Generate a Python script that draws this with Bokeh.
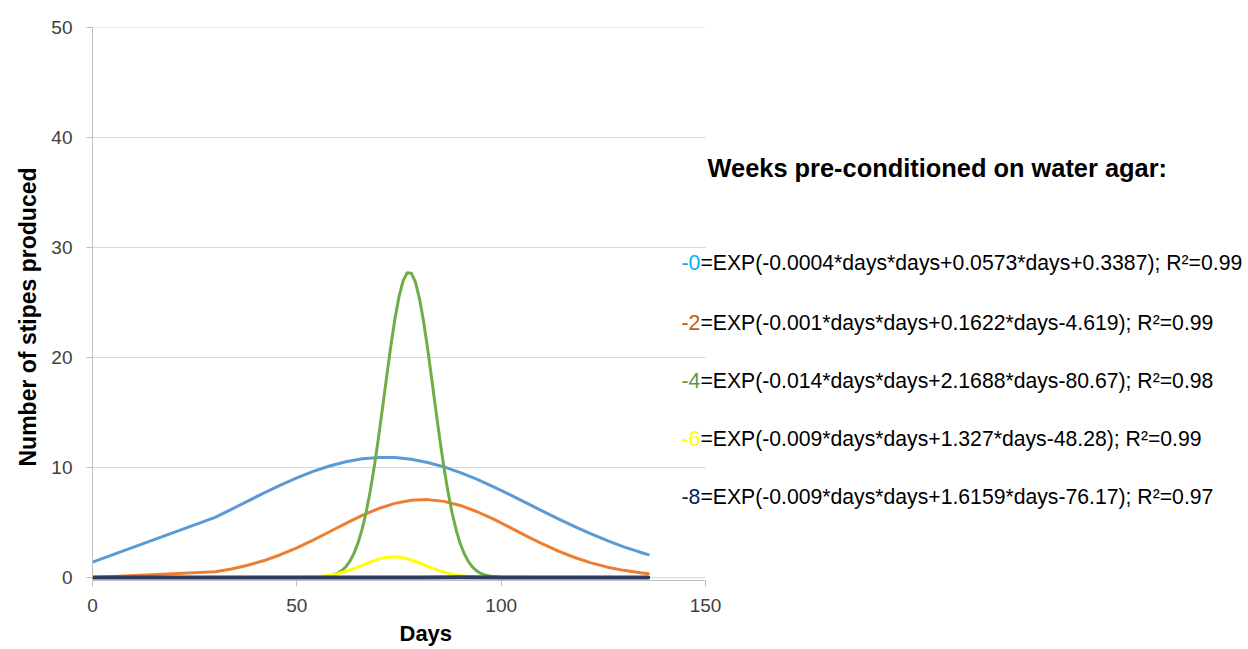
from bokeh.plotting import figure
from bokeh.models import Label, FixedTicker, Range1d, Title
from bokeh.embed import file_html
from bokeh.resources import INLINE

# ---- data ----
days_0 = [0, 30, 34, 38, 42, 46, 50, 54, 58, 62, 66, 70, 74, 78, 82, 86, 90, 94, 98,
          102, 106, 110, 114, 118, 122, 126, 130, 134, 136]
weeks_0 = [1.40, 5.46, 6.20, 6.95, 7.69, 8.40, 9.06, 9.65, 10.14, 10.52, 10.79, 10.91, 10.90,
           10.75, 10.46, 10.06, 9.54, 8.94, 8.27, 7.55, 6.81, 6.06, 5.33, 4.62, 3.96, 3.35,
           2.79, 2.30, 2.08]

days_2 = days_0
weeks_2 = [0.01, 0.52, 0.77, 1.11, 1.54, 2.07, 2.69, 3.40, 4.16, 4.92, 5.64, 6.27, 6.74,
           7.02, 7.08, 6.92, 6.55, 6.00, 5.33, 4.58, 3.81, 3.07, 2.40, 1.82, 1.33, 0.94,
           0.65, 0.43, 0.35]

days_4 = [0, 30, 50, 56, 58, 60, 61, 62, 63, 64, 65, 66, 67, 68, 69, 70, 71, 72, 73, 74,
          75, 76, 77, 78, 79, 80, 81, 82, 83, 84, 85, 86, 87, 88, 89, 90, 91, 92, 93, 94,
          95, 96, 98, 100, 110, 120, 136]
weeks_4 = [0.0, 0.0, 0.0, 0.04, 0.14, 0.39, 0.63, 0.98, 1.49, 2.20, 3.17, 4.42, 6.01, 7.94,
           10.21, 12.76, 15.50, 18.31, 21.04, 23.51, 25.53, 26.97, 27.70, 27.67, 26.88,
           25.38, 23.31, 20.81, 18.07, 15.26, 12.53, 10.00, 7.76, 5.86, 4.30, 3.07, 2.13,
           1.44, 0.94, 0.60, 0.37, 0.23, 0.08, 0.02, 0.0, 0.0, 0.0]

days_6 = [0, 30, 50, 54, 56, 58, 60, 62, 64, 66, 68, 70, 72, 74, 76, 78, 80, 82, 84, 86,
          88, 90, 92, 94, 100, 110, 120, 136]
weeks_6 = [0.0, 0.0, 0.01, 0.06, 0.11, 0.20, 0.35, 0.55, 0.81, 1.10, 1.41, 1.67, 1.84,
           1.89, 1.80, 1.60, 1.32, 1.02, 0.73, 0.49, 0.30, 0.17, 0.09, 0.05, 0.0, 0.0,
           0.0, 0.0]

days_8 = [0, 30, 60, 70, 80, 90, 100, 110, 120, 136]
weeks_8 = [0.0, 0.0, 0.0, 0.0, 0.01, 0.03, 0.01, 0.0, 0.0, 0.0]

series_names = ["-0", "-2", "-4", "-6", "-8"]
equations = [
    "=EXP(-0.0004*days*days+0.0573*days+0.3387); R\u00b2=0.99",
    "=EXP(-0.001*days*days+0.1622*days-4.619); R\u00b2=0.99",
    "=EXP(-0.014*days*days+2.1688*days-80.67); R\u00b2=0.98",
    "=EXP(-0.009*days*days+1.327*days-48.28); R\u00b2=0.99",
    "=EXP(-0.009*days*days+1.6159*days-76.17); R\u00b2=0.97",
]
legend_title = "Weeks pre-conditioned on water agar:"
x_title = "Days"
y_title = "Number of stipes produced"
x_ticks = [0, 50, 100, 150]
y_ticks = [0, 10, 20, 30, 40, 50]
x_min, x_max = 0, 150
y_min, y_max = 0, 50

line_colors = ["#5B9BD5", "#ED7D31", "#70AD47", "#FFFF00", "#2E3B62"]
label_colors = ["#00B0F0", "#C55A11", "#5E9A3A", "#FFFF00", "#002060"]

FONT = "Liberation Sans"

AXIS_PX = 613          # pixel length of the 0..150 day axis
FRAME_W = 1156         # frame extends to the right to host the equation block
PX_PER_UNIT = 11.0     # vertical pixels per stipe
FRAME_H = 553          # a few px below zero so the zero-level line is not clipped
p = figure(frame_width=FRAME_W, frame_height=FRAME_H,
           min_border_left=92, min_border_right=0, min_border_top=27, min_border_bottom=40,
           x_range=Range1d(x_min, x_max * FRAME_W / AXIS_PX),
           y_range=Range1d(y_max - FRAME_H / PX_PER_UNIT, y_max),
           output_backend="svg", toolbar_location=None, tools="")
p.outline_line_color = None
p.background_fill_color = "white"
p.border_fill_color = "white"

# axes
for ax in (p.xaxis[0], p.yaxis[0]):
    ax.axis_line_color = "#BFBFBF"
    ax.major_tick_line_color = "#BFBFBF"
    ax.minor_tick_line_color = None
    ax.major_tick_in = 0
    ax.major_label_text_font = FONT
    ax.major_label_text_font_size = "19px"
    ax.major_label_text_color = "#404040"

p.xaxis.bounds = (x_min, x_max)
p.yaxis.bounds = (y_min, y_max)
p.xaxis.ticker = FixedTicker(ticks=x_ticks)
p.yaxis.ticker = FixedTicker(ticks=y_ticks)
p.xaxis.major_tick_out = 6
p.yaxis.major_tick_out = 6
p.xaxis.major_label_standoff = 12
p.yaxis.major_label_standoff = 14

# axis titles (placed as titles so they can be centred on the 0..150 span)
p.add_layout(Title(text=x_title, align="left", offset=307, standoff=9,
                   text_font=FONT, text_font_size="22px", text_font_style="bold",
                   text_color="black"), "below")
p.add_layout(Title(text=y_title, align="left", offset=114, standoff=16,
                   text_font=FONT, text_font_size="23px", text_font_style="bold",
                   text_color="black"), "left")

# horizontal gridlines only across the 0..150 day span
p.xgrid.grid_line_color = None
p.ygrid.grid_line_color = None
p.segment(x0=[x_min] * len(y_ticks), x1=[x_max] * len(y_ticks), y0=y_ticks, y1=y_ticks,
          line_color="#D9D9D9", line_width=1)

# lines
all_days = [days_0, days_2, days_4, days_6, days_8]
all_vals = [weeks_0, weeks_2, weeks_4, weeks_6, weeks_8]
widths = [3, 3, 3, 3, 4]
for d, v, c, w in zip(all_days, all_vals, line_colors, widths):
    p.line(d, v, line_color=c, line_width=w, line_join="round", line_cap="round")

# equation block
p.add_layout(Label(x=150.5, y=37.2, text=legend_title, text_font=FONT,
                   text_font_size="25.4px", text_font_style="bold", text_color="black",
                   text_baseline="middle", text_align="left"))
row_y = [28.63, 23.18, 17.91, 12.63, 7.36]
for name, eq, col, yy in zip(series_names, equations, label_colors, row_y):
    p.add_layout(Label(x=144.1, y=yy, text=name, text_font=FONT, text_font_size="21.2px",
                       text_color=col, text_baseline="middle", text_align="left"))
    p.add_layout(Label(x=144.1, y=yy, x_offset=19, text=eq, text_font=FONT,
                       text_font_size="21.2px", text_color="black",
                       text_baseline="middle", text_align="left"))

open("out.html", "w").write(file_html(p, INLINE))
